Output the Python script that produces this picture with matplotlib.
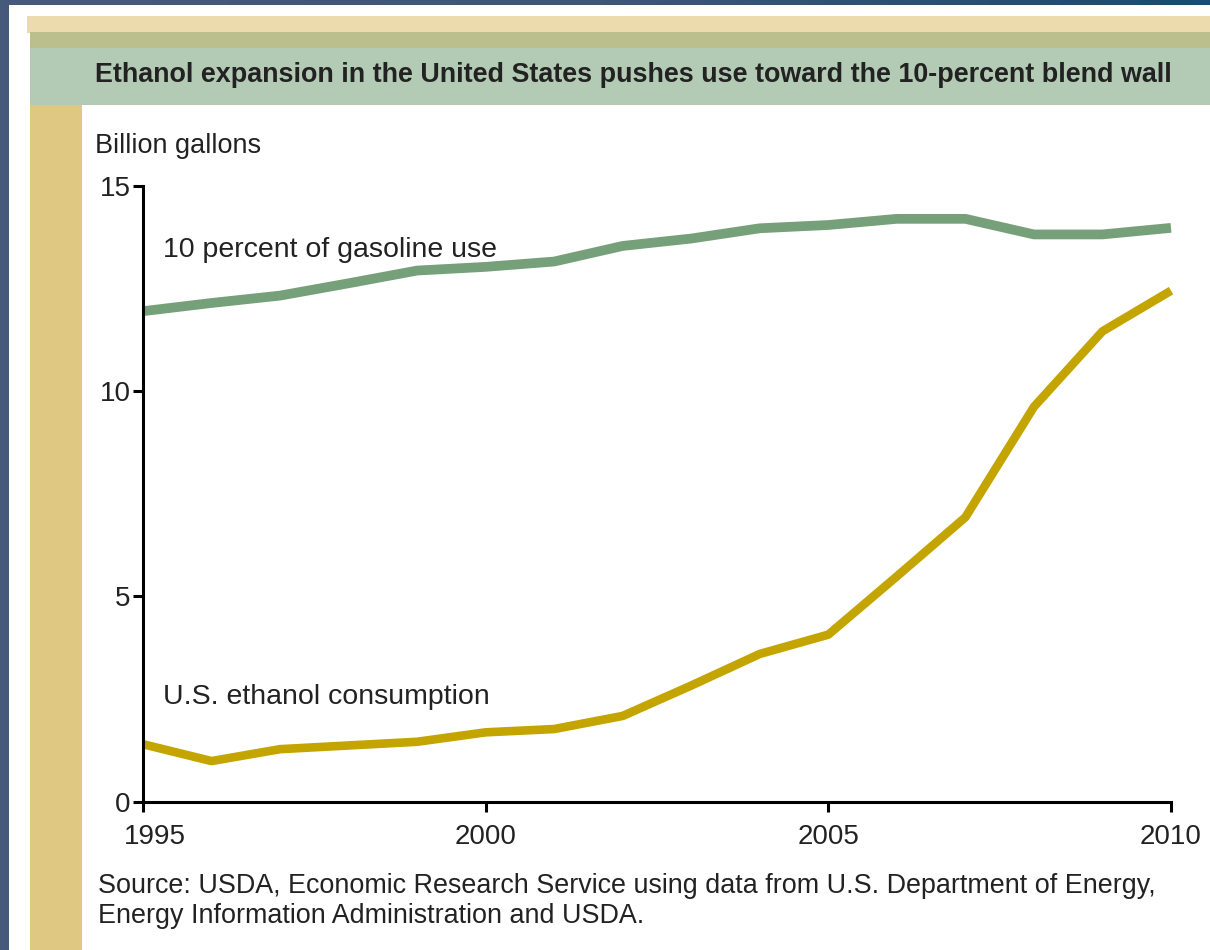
import matplotlib.pyplot as plt
import matplotlib.patches as patches
import matplotlib.transforms as mtransforms
from matplotlib.colors import LinearSegmentedColormap
import numpy as np

# Data
years = list(range(1995, 2011))
gasoline_10pct = [11.95, 12.15, 12.33, 12.63, 12.94, 13.03, 13.16, 13.54,
                  13.72, 13.97, 14.05, 14.2, 14.2, 13.82, 13.82, 13.98]
ethanol_use = [1.40, 0.99, 1.28, 1.37, 1.46, 1.69, 1.77, 2.09,
               2.83, 3.60, 4.07, 5.49, 6.93, 9.62, 11.46, 12.45]
yticks = [0, 5, 10, 15]
xticks = [1995, 2000, 2005, 2010]

title = "Ethanol expansion in the United States pushes use toward the 10-percent blend wall"
source = ("Source: USDA, Economic Research Service using data from U.S. Department of Energy,\n"
          "Energy Information Administration and USDA.")

plt.rcParams['font.family'] = ['Liberation Sans', 'DejaVu Sans']
W, H = 1210, 950
fig = plt.figure(figsize=(W / 100, H / 100), dpi=100)

# background (slide frame) with a soft gradient
bg = fig.add_axes([0, 0, 1, 1])
bg.set_xlim(0, W)
bg.set_ylim(H, 0)
bg.axis('off')
grad = np.linspace(0, 1, 256).reshape(1, -1)
cmap = LinearSegmentedColormap.from_list('bg', ['#475a7b', '#3f5677', '#1b4b6e'])
bg.imshow(grad, cmap=cmap, extent=[0, W, H, 0], aspect='auto', zorder=0)

def box(x0, y0, x1, y1, color):
    bg.add_patch(patches.Rectangle((x0, y0), x1 - x0, y1 - y0, facecolor=color,
                                   edgecolor='none', zorder=1))

box(9, 5, W, H, 'white')
box(27, 16, W, 33, '#ecdcad')
box(30, 32, W, 49, '#bbbf8e')
box(30, 48, W, 105, '#b3cbb5')
box(30, 105, 82, H, '#dfc882')

txt = '#222222'
bg.text(95, 75, title, fontsize=19.4, fontweight='bold', color=txt, va='center', ha='left', zorder=2)
bg.text(95, 146, "Billion gallons", fontsize=19.5, color=txt, va='center', ha='left', zorder=2)
bg.text(98, 901, source, fontsize=19.4, color=txt, va='center', ha='left', linespacing=1.22, zorder=2)

# main chart
ax = fig.add_axes([143 / W, (H - 801.7) / H, 1028 / W, 615.7 / H])
ax.patch.set_alpha(0)
ax.plot(years, gasoline_10pct, color='#76a07a', lw=7, solid_capstyle='butt', clip_on=False)
ax.plot(years, ethanol_use, color='#c4a500', lw=6.2, solid_capstyle='butt', clip_on=False)

ax.set_xlim(1995, 2010)
ax.set_ylim(0, 15)
ax.set_xticks(xticks)
ax.set_yticks(yticks)
for s in ['top', 'right']:
    ax.spines[s].set_visible(False)
for s in ['left', 'bottom']:
    ax.spines[s].set_linewidth(2.2)
    ax.spines[s].set_color('black')
ax.tick_params(direction='out', length=7, width=2.2, labelsize=20, labelcolor=txt)
ax.tick_params(axis='x', pad=9)
ax.tick_params(axis='y', pad=2)

# first year label sits a bit to the right of its tick
fig.canvas.draw()
lbl = ax.get_xticklabels()[0]
lbl.set_transform(lbl.get_transform() + mtransforms.ScaledTranslation(12 / 100, 0, fig.dpi_scale_trans))

ax.text(1995.29, 13.45, "10 percent of gasoline use", fontsize=20.5, color=txt, va='center', ha='left')
ax.text(1995.29, 2.55, "U.S. ethanol consumption", fontsize=20.5, color=txt, va='center', ha='left')

fig.savefig('out.png', dpi=100)
